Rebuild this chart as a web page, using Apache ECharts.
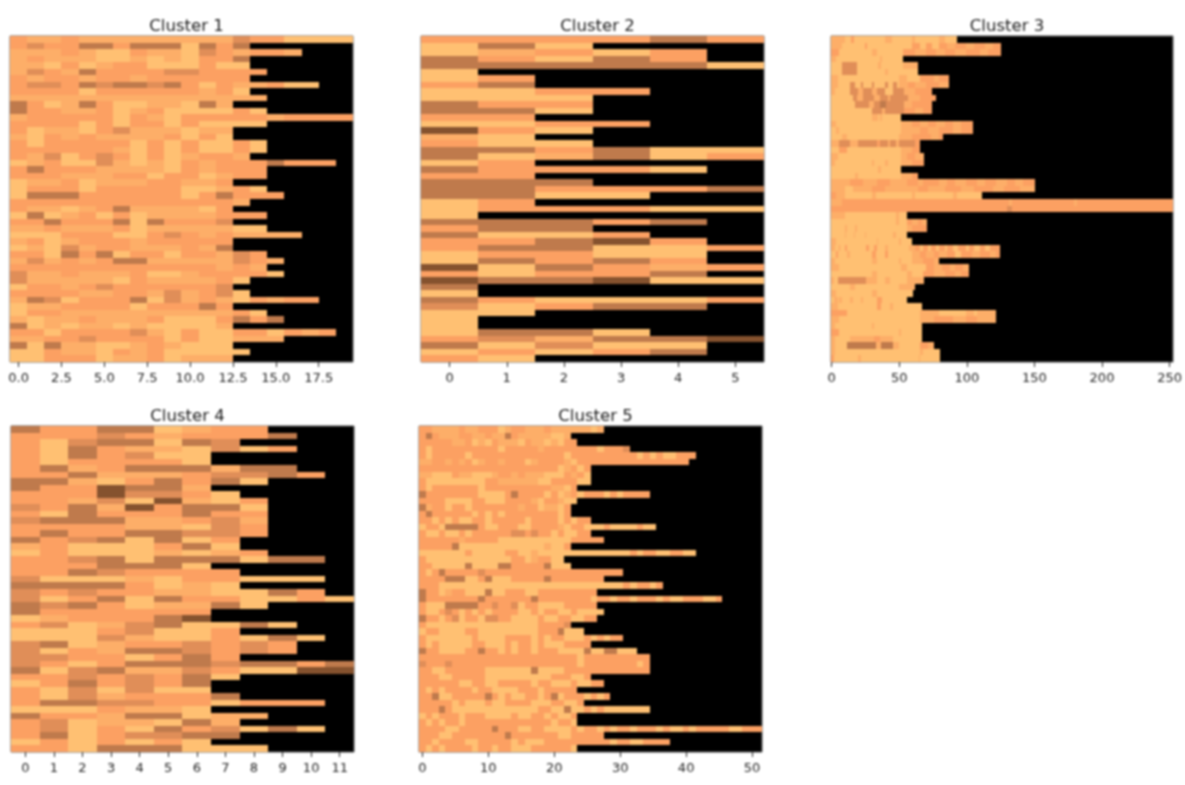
<!DOCTYPE html>
<html lang="en" style="height: 100%">
<head>
    <meta charset="utf-8">
    <script src="https://cdn.jsdelivr.net/npm/echarts@6/dist/echarts.min.js"></script>
    <title>Clusters</title>
</head>
<body style="height: 100%; margin: 0; background: #fff">
<div id="container" style="width: 1185px; height: 785px; filter: blur(0.8px)"></div>

<script type="text/javascript">
    // one string per row, one digit per cell (level in levelColors), black where the row ends
    var levelColors = ['#ffc072', '#fdae68', '#fca062', '#e08e58', '#bf7a4c', '#85522e'];

    var cluster1Rows = [
        '2112111111 1113220000', '2322442444 0424', '1112100211 0321221', '1211100101 0224',
        '1102012200 0200', '1321422223 32222', '2122122122 2222', '2332434434 20211200',
        '2222022222 2120', '1111111111 11111', '4201420011 041', '4221120120 00020',
        '1222220210 2222212222', '2222020220 20000', '2011023111 011', '1021211112 020',
        '2022222020 20020', '2222221020 20020', '2130232020 1221', '0120031010 212224222',
        '2422211110 21222', '2221112202 20122', '0112011122 112', '0222022222 00120',
        '0444222222 024222', '2222222222 2221', '2110124111 102',
        '0401202011 11222', '2242224042 223', '1121112011 11100', '0002220023 2121111',
        '1201222122 222', '0103122111 214', '2204240220 22132', '1312124411 111321',
        '2222222222 22121', '3112111200 122220', '3111110211 1120', '0221232222 223',
        '2222112213 1230', '1430222403 12102122', '0112222022 242', '0221111111 11120',
        '1011211120 002424', '4010110100 001', '2202222310 200220212',
        '1122322220 200111', '4041100121 000', '0021102120 0000', '0022201120 111'
    ];
    var cluster2Rows = [
        '222242', '040', '01202', '42042', '444440', '0', '02', '24', '0022', '000',
        '422', '440', '22', '0022', '520', '10', '200', '442400', '401402', '02',
        '42220', '22', '444', '442224', '4400', '02', '022200', '0', '44424', '244',
        '4002', '22452', '244002', '02200', '04242', '504212', '20224', '544500', '4', '0',
        '420002', '30244', '00', '0', '0', '0440', '231445', '40300', '02024', '20'
    ];
    var cluster4Rows = [
        '422440122', '2223212224', '20344043', '2042110302', '2042300', '2022220', '2412444144', '22411123342',
        '441024240', '4225441', '22253320', '221305102', '324152440', '204222422', '344411231', '222211032',
        '242244332', '42340402', '12000240', '020001012', '22340444044', '2224440', '22432222', '30001022000',
        '44442010', '32322110042', '302404220020', '434201140', '4222222', '0122245',
        '2301340040', '00023002', '00031002040', '3401223232', '3021443232', '33220242', '320244434424', '403411320055',
        '22323240', '0242324', '2030300', '20312224', '24433220222', '0002110', '422144011', '23011041',
        '23020423040', '24023344', '0202020', '220444000'
    ];
    var cluster5Rows = [
        '2211112112 2201221112 11111101', '2421112211 2114211111 001', '2222211201 0211102110 1022',
        '2022222222 2202222212 2222222022 23', '2022222022 2222222222 2202222222 2220202002 22',
        '1122121201 2212220122 2210222222 2222222222 2', '2222222222 2222222222 201202',
        '1100021100 0122121110 002120', '2000000000 2211111100 222200', '2022222220 2222222222 1102',
        '4222222220 0002422220 2012022202 02222', '2222000022 0002222102 2100', '4122022022 2222212201 102',
        '2422222202 0202222222 202', '2202020022 0222220222 202022', '0220444442 0022200222 2102200020 000200',
        '2002002022 2222332322 020022', '2222221222 2200000000 00022222', '2222240000 0000000001 002',
        '0000000200 0002200100 0000000000 0020220022 00', '2000000000 0000220122 00', '2200000400 0044222224 000',
        '2024222223 2222222222 2222222222 2', '2222444002 4000222224 22222222', '2220000000 0000000000 0000000000 0202202',
        '4220122000 4002220022 2222222', '4222222224 2222222422 2222220220 2202220200 222002', '2000444442 2322302200 0022222',
        '2002320202 0222200202 20020000', '4220230220 3322000020 0220022', '2000000000 0000000022 223',
        '0220000220 0000000022 24000', '2000000020 0002222020 2200020202 2', '2020000022 0002022020 002222',
        '4220000224 2202022022 2000040044 000', '2222222222 2222222222 2222022222 22222', '3222322222 2222222222 2222022222 22202',
        '2200222222 0000000400 0022222222 22222', '2220022222 0000000000 222002', '2222220022 0022222022 00020022',
        '2020222202 2000022202 2222', '2240022222 4202002202 402220202', '2222202000 2002222000 22002',
        '2224200000 0000000022 0040020200 00000', '0202220222 0000200220 2002', '2020220222 2222222222 0220',
        '2222002222 2422200220 0002022020 2202220200 2022222002 22', '2220022222 2224222222 20022222',
        '2202222002 2222020002 2222222220 22002222', '2020222202 2022000222 2220'
    ];

    // cluster 3 is 253 wide: row lengths, then for each row "startColumn:level" where the level changes
    var cluster3Lengths = [
        93, 126, 126, 53, 64, 64, 87, 87, 75, 78, 75, 75, 52, 105, 105, 83, 66, 66, 69, 69, 52, 64, 151, 151, 112,
        253, 253, 56, 71, 71, 56, 60, 125, 125, 80, 102, 102, 69, 62, 61, 56, 67, 122, 122, 67, 67, 67, 76, 81, 81
    ];
    var cluster3Runs = [
        '0:1 10:0 15:2 17:0 40:1 45:0 60:1 62:0 80:1 84:0',
        '0:1 8:0 25:2 27:0 60:2 66:0 70:2 75:0 80:2 86:1 92:2 100:1 106:2 114:1 120:2',
        '0:2 6:0 30:1 34:0 53:2 62:1 70:2 78:1 84:2 92:1 100:2 110:1 116:2',
        '0:1 4:0 36:1 38:0',
        '0:0 8:3 19:0 35:1 37:0 53:1',
        '0:0 8:3 19:0 40:1 42:0',
        '0:1 5:0 50:1 56:0 66:2 76:1 80:2',
        '0:1 5:0 14:3 18:0 22:3 24:0 30:3 32:0 40:3 42:0 46:3 49:0 50:1 57:2 62:1 70:2 80:1',
        '0:1 3:0 14:3 20:1 24:3 30:1 34:3 40:0 46:3 54:1 62:2',
        '0:0 16:3 19:1 24:3 32:1 36:3 42:1 44:3 57:1 66:2',
        '0:0 18:3 28:1 32:3 36:4 41:3 54:1 60:2',
        '0:0 30:3 38:1 40:3 54:2 62:1 68:2',
        '0:0 30:1 35:0 36:1 38:0',
        '0:1 4:0 52:1 60:2 66:1 72:2 78:1 84:2 90:1 96:2',
        '0:0 4:1 6:0 52:1 66:2 72:1 80:2 90:1 96:2',
        '0:0 8:1 12:0 50:1 60:2 74:1 80:2',
        '0:1 6:3 14:1 20:3 34:2 36:3 42:1 44:3 48:1 50:3 62:2',
        '0:0 6:2 12:0 52:1 60:2',
        '0:1 5:0 52:1 56:2 62:1',
        '0:1 3:0 30:1 32:0 40:1 42:0 52:1 60:2',
        '0:0 35:1 37:0',
        '0:0 18:1 20:0 52:1 60:2',
        '0:1 14:2 24:1 34:2 44:1 56:2 64:1 68:2 80:1 86:2 92:1 100:2 108:1 114:2 122:1 130:2 136:1 142:2',
        '0:1 10:0 16:1 30:2 40:1 64:2 72:1 84:2 96:1 106:2 120:1 128:2 140:1',
        '0:2 4:1 10:0 30:1 33:0 60:1 62:0 90:1 93:0',
        '0:1 8:2 132:1 134:2 180:1 182:2',
        '0:2 130:3 134:2',
        '0:1 10:0 48:1 50:0',
        '0:0 48:1 50:0 56:2 60:1 64:2 67:1',
        '0:0 10:1 12:0 18:1 19:0 56:1 60:2',
        '0:0 10:1 11:0 17:1 18:0 25:1 26:0 46:1 48:0',
        '0:1 4:0 34:1 35:0 50:1 52:0',
        '0:1 3:0 6:2 7:0 10:2 12:0 26:2 28:0 32:2 34:0 40:1 42:0 58:1 62:2 66:0 68:2 72:0 74:2 78:0 80:2 84:0 86:2 90:0 94:2 100:0 102:2 106:0 110:2 114:0 118:2',
        '0:0 4:2 5:0 12:1 14:0 30:2 33:0 40:2 42:0 60:1 66:2 70:1 76:2 80:1 86:2 92:0 96:2 104:1 110:2 118:1 122:2',
        '0:1 3:0 30:1 34:0 50:1 52:0 60:1 68:2 76:1',
        '0:1 6:0 52:1 56:0 70:2 76:1 82:2 88:1 92:2 98:1',
        '0:0 30:1 34:0 56:1 60:0 68:2 76:1 84:2 92:1 96:2',
        '0:1 2:0 5:3 26:1 34:0 40:1 44:0 56:1',
        '0:0 14:1 18:0 50:1',
        '0:1 4:0 30:1 34:0',
        '0:0 2:1 5:0 6:1 8:0 14:1 16:0 22:1 24:0 34:2 38:0',
        '0:1 5:0 34:2 37:0 44:1 46:0',
        '0:2 12:0 66:1 80:0 100:1 106:0 108:1',
        '0:1 6:0 66:1 76:2 90:1 100:2 108:1',
        '0:1 3:0 30:1 32:0',
        '0:2 6:0 50:1 52:0',
        '0:1 3:0 14:1 32:2 36:1 46:0',
        '0:1 3:0 12:4 33:1 37:4 46:1 50:0 66:2 72:1',
        '0:1 3:0 66:1 68:0',
        '0:2 2:0 20:1 22:0 65:1 66:0'
    ];

    var cluster1Ticks = [0, 2.5, 5, 7.5, 10, 12.5, 15, 17.5];
    var cluster2Ticks = [0, 1, 2, 3, 4, 5];
    var cluster3Ticks = [0, 50, 100, 150, 200, 250];
    var cluster4Ticks = [0, 1, 2, 3, 4, 5, 6, 7, 8, 9, 10, 11];
    var cluster5Ticks = [0, 10, 20, 30, 40, 50];

    function cellsFromDigits(rows) {
        var cells = [];
        rows.forEach(function (row, r) {
            var digits = row.replace(/ /g, '');
            for (var c = 0; c < digits.length; c++) {
                cells.push([c, r, +digits[c]]);
            }
        });
        return cells;
    }

    function cellsFromRuns(runs, lengths) {
        var cells = [];
        runs.forEach(function (row, r) {
            var parts = row.split(' ').map(function (p) { return p.split(':').map(Number); });
            for (var i = 0; i < parts.length; i++) {
                var end = i + 1 < parts.length ? parts[i + 1][0] : lengths[r];
                for (var c = parts[i][0]; c < end; c++) {
                    cells.push([c, r, parts[i][1]]);
                }
            }
        });
        return cells;
    }

    var panels = [
        {title: 'Cluster 1', left: 10, right: 353, top: 36, bottom: 362, columns: 20, ticks: cluster1Ticks, digits: 1, cells: cellsFromDigits(cluster1Rows)},
        {title: 'Cluster 2', left: 421, right: 764, top: 36, bottom: 362, columns: 6, ticks: cluster2Ticks, digits: 0, cells: cellsFromDigits(cluster2Rows)},
        {title: 'Cluster 3', left: 831, right: 1173, top: 36, bottom: 362, columns: 253, ticks: cluster3Ticks, digits: 0, cells: cellsFromRuns(cluster3Runs, cluster3Lengths)},
        {title: 'Cluster 4', left: 11, right: 354, top: 426, bottom: 752, columns: 12, ticks: cluster4Ticks, digits: 0, cells: cellsFromDigits(cluster4Rows)},
        {title: 'Cluster 5', left: 419, right: 762, top: 426, bottom: 752, columns: 52, ticks: cluster5Ticks, digits: 0, cells: cellsFromDigits(cluster5Rows)}
    ];

    function renderCell(params, api) {
        var a = api.coord([api.value(0) - 0.5, api.value(1) - 0.5]);
        var b = api.coord([api.value(0) + 0.5, api.value(1) + 0.5]);
        var x = Math.round(a[0]), y = Math.round(a[1]);
        return {
            type: 'rect',
            shape: {x: x, y: y, width: Math.round(b[0]) - x, height: Math.round(b[1]) - y},
            style: {fill: levelColors[api.value(2)]}
        };
    }

    var myChart = echarts.init(document.getElementById('container'), null, {renderer: 'canvas'});

    var option = {
        backgroundColor: '#fff',
        animation: false,
        textStyle: {fontFamily: 'DejaVu Sans'},
        title: panels.map(function (p) {
            return {
                text: p.title,
                left: (p.left + p.right) / 2,
                top: p.top - 23,
                textAlign: 'center',
                textStyle: {fontSize: 16.5, fontWeight: 'normal', color: '#1a1a1a', fontFamily: 'DejaVu Sans'}
            };
        }),
        grid: panels.map(function (p) {
            return {
                left: p.left, top: p.top, width: p.right - p.left, height: p.bottom - p.top,
                show: true, backgroundColor: '#000', borderColor: '#555', borderWidth: 1
            };
        }),
        xAxis: panels.map(function (p, i) {
            return {
                type: 'value', gridIndex: i, min: -0.5, max: p.columns - 0.5,
                splitLine: {show: false},
                axisLine: {show: false, onZero: false},
                axisTick: {show: true, length: 5, customValues: p.ticks, lineStyle: {color: '#222'}},
                axisLabel: {
                    show: true, customValues: p.ticks, fontSize: 13, margin: 10, color: '#222',
                    fontFamily: 'DejaVu Sans',
                    formatter: function (v) { return v.toFixed(p.digits); }
                }
            };
        }),
        yAxis: panels.map(function (p, i) {
            return {
                type: 'value', gridIndex: i, min: -0.5, max: 49.5, inverse: true,
                splitLine: {show: false}, axisLine: {show: false}, axisTick: {show: false}, axisLabel: {show: false}
            };
        }),
        series: panels.map(function (p, i) {
            return {
                type: 'custom', name: p.title, xAxisIndex: i, yAxisIndex: i,
                renderItem: renderCell, data: p.cells, clip: true, silent: true,
                progressive: 0, encode: {x: 0, y: 1}
            };
        })
    };

    myChart.setOption(option);
    window.addEventListener('resize', myChart.resize);
</script>
</body>
</html>
